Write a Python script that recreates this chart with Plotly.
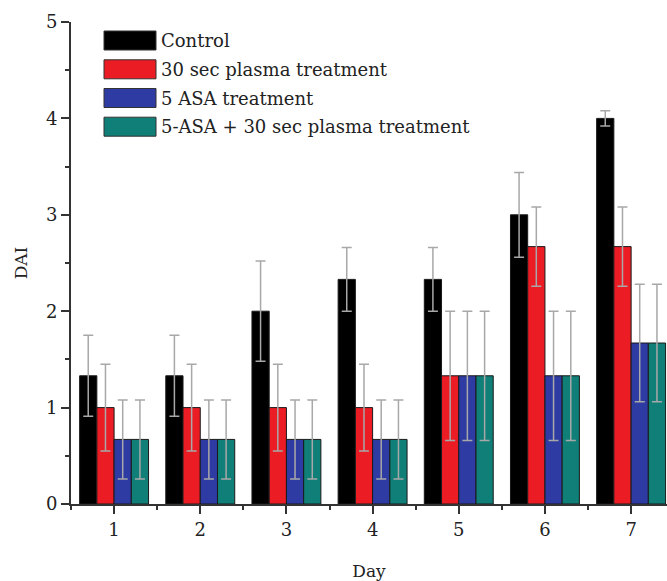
import plotly.graph_objects as go

days = [1, 2, 3, 4, 5, 6, 7]
series_names = ["Control", "30 sec plasma treatment", "5 ASA treatment",
                "5-ASA + 30 sec plasma treatment"]
control = [1.33, 1.33, 2.0, 2.33, 2.33, 3.0, 4.0]
control_err = [0.42, 0.42, 0.52, 0.33, 0.33, 0.44, 0.08]
plasma = [1.0, 1.0, 1.0, 1.0, 1.33, 2.67, 2.67]
plasma_err = [0.45, 0.45, 0.45, 0.45, 0.67, 0.41, 0.41]
asa = [0.67, 0.67, 0.67, 0.67, 1.33, 1.33, 1.67]
asa_err = [0.41, 0.41, 0.41, 0.41, 0.67, 0.67, 0.61]
combo = [0.67, 0.67, 0.67, 0.67, 1.33, 1.33, 1.67]
combo_err = [0.41, 0.41, 0.41, 0.41, 0.67, 0.67, 0.61]

colors = ["#000000", "#ec1c24", "#2e3ba2", "#0f7f78"]
values = [control, plasma, asa, combo]
errors = [control_err, plasma_err, asa_err, combo_err]

FONT = "DejaVu Serif"
fig = go.Figure()
for name, vals, errs, col in zip(series_names, values, errors, colors):
    fig.add_trace(go.Bar(
        x=days, y=vals, name=name,
        marker=dict(color=col, line=dict(color="#1a1a1a", width=1)),
        error_y=dict(type="data", array=errs, visible=True,
                     color="#a8a8a8", thickness=1.5, width=5),
        showlegend=False,
    ))

W, H = 667, 581
L, T = 71, 22
ph = 482
B = H - T - ph
R = 0
pw = W - L - R


def px_to_paper(xp, yp):
    return (xp - L) / pw, (T + ph - yp) / ph


# custom legend with large swatches
row_y = [40.5, 69.3, 98.0, 126.7]
for name, col, yc in zip(series_names, colors, row_y):
    x0, y0 = px_to_paper(104, yc + 9.5)
    x1, y1 = px_to_paper(156, yc - 9.5)
    fig.add_shape(type="rect", xref="paper", yref="paper",
                  x0=x0, x1=x1, y0=y0, y1=y1,
                  fillcolor=col, line=dict(color="#333333", width=1))
    tx, ty = px_to_paper(159, yc)
    fig.add_annotation(xref="paper", yref="paper", x=tx, y=ty,
                       text=name, showarrow=False, xanchor="left",
                       yanchor="middle",
                       font=dict(family=FONT, size=18, color="#222222"))

fig.update_layout(
    width=W, height=H,
    margin=dict(l=L, r=R, t=T, b=B, autoexpand=False),
    paper_bgcolor="white", plot_bgcolor="white",
    barmode="group", bargap=0.2, bargroupgap=0,
    font=dict(family=FONT, size=17, color="#222222"),
    xaxis=dict(
        range=[0.5, 0.5 + pw / 86.17],
        tickmode="array", tickvals=days, ticktext=[str(d) for d in days],
        ticks="outside", ticklen=8, tickwidth=2, tickcolor="#333333",
        minor=dict(tickmode="array", tickvals=[0.5, 1.5, 2.5, 3.5, 4.5, 5.5, 6.5],
                   ticks="outside", ticklen=4, tickwidth=2, tickcolor="#333333"),
        showline=True, linecolor="#333333", linewidth=2,
        showgrid=False, zeroline=False,
        title=dict(text="Day", font=dict(family=FONT, size=17), standoff=28),
        tickfont=dict(family=FONT, size=18, color="#222222"),
    ),
    yaxis=dict(
        range=[0, 5], tickvals=[0, 1, 2, 3, 4, 5],
        ticks="outside", ticklen=8, tickwidth=2, tickcolor="#333333",
        minor=dict(tickvals=[0.5, 1.5, 2.5, 3.5, 4.5],
                   ticks="outside", ticklen=4, tickwidth=2, tickcolor="#333333"),
        showline=True, linecolor="#333333", linewidth=2,
        showgrid=False, zeroline=False,
        title=dict(text="DAI", font=dict(family=FONT, size=17), standoff=14),
        tickfont=dict(family=FONT, size=18, color="#222222"),
    ),
)

fig.write_html(
    "out.html",
    config={"displayModeBar": False},
    post_script="document.body.style.margin='0';document.body.style.overflow='hidden';",
)
